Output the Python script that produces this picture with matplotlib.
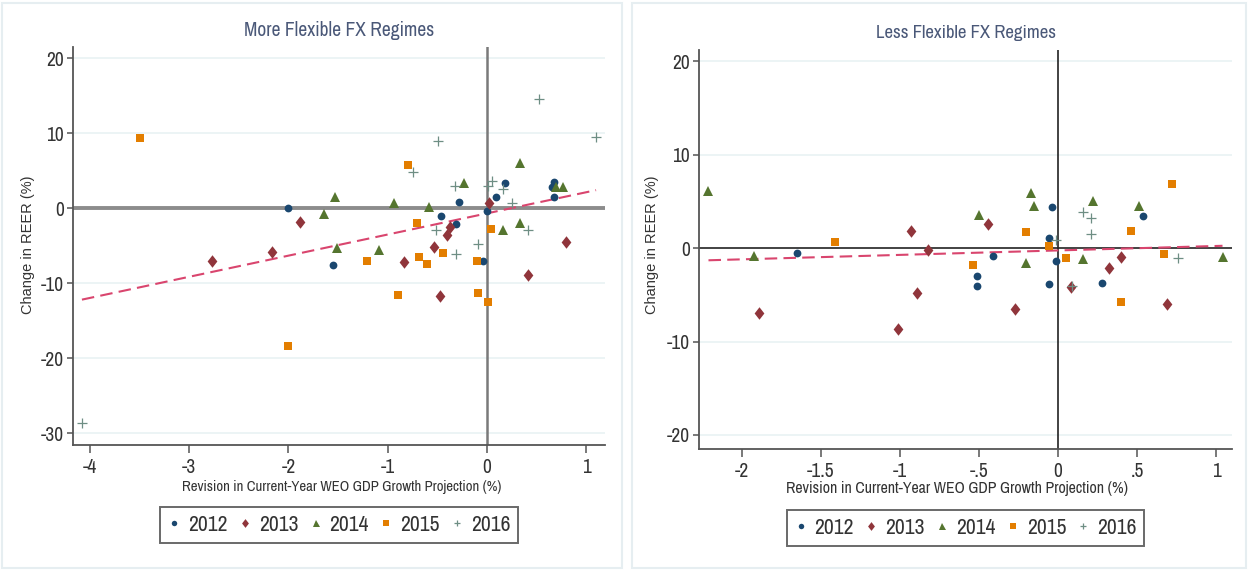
import matplotlib
matplotlib.use("Agg")
import matplotlib.pyplot as plt
from matplotlib import font_manager
from matplotlib.patches import Rectangle
import numpy as np

# ---------------- data ----------------
years = ["2012", "2013", "2014", "2015", "2016"]

# More flexible FX regimes
mf_2012_x = [-2.00, -1.55, -0.46, -0.28, -0.31, -0.04, 0.00, 0.09, 0.18, 0.68, 0.66, 0.68]
mf_2012_y = [0.0, -7.6, -1.1, 0.8, -2.1, -7.1, -0.4, 1.5, 3.3, 3.5, 2.8, 1.5]
mf_2013_x = [-2.77, -2.17, -1.88, -0.84, -0.53, -0.47, -0.40, -0.37, 0.02, 0.41, 0.80]
mf_2013_y = [-7.0, -5.8, -1.9, -7.2, -5.2, -11.7, -3.6, -2.5, 0.7, -8.9, -4.5]
mf_2014_x = [-1.64, -1.53, -1.51, -1.09, -0.94, -0.58, -0.23, 0.16, 0.33, 0.33, 0.70, 0.77]
mf_2014_y = [-0.8, 1.5, -5.3, -5.6, 0.7, 0.1, 3.3, -2.9, 6.0, -2.0, 2.8, 2.8]
mf_2015_x = [-3.50, -2.00, -0.79, -0.70, -1.21, -0.90, -0.68, -0.60, -0.44, 0.04, -0.10, -0.09, 0.01]
mf_2015_y = [9.3, -18.4, 5.7, -2.0, -7.1, -11.6, -6.5, -7.5, -6.0, -2.8, -7.1, -11.3, -12.5]
mf_2016_x = [-4.08, -0.49, -0.74, -0.32, -0.51, -0.31, 0.05, 0.01, 0.16, 0.25, 0.41, -0.09, 0.53, 1.10]
mf_2016_y = [-28.7, 8.9, 4.8, 2.9, -2.9, -6.1, 3.6, 2.9, 2.5, 0.7, -2.9, -4.8, 14.6, 9.5]
mf_fit_intercept = -0.7
mf_fit_slope = 2.82

# Less flexible FX regimes
lf_2012_x = [-1.65, -0.41, -0.51, -0.51, -0.04, -0.06, -0.01, -0.06, 0.28, 0.54]
lf_2012_y = [-0.5, -0.8, -3.0, -4.1, 4.4, 1.1, -1.4, -3.8, -3.7, 3.4]
lf_2013_x = [-1.89, -0.93, -0.82, -0.89, -1.01, -0.44, -0.27, 0.08, 0.32, 0.40, 0.69]
lf_2013_y = [-6.9, 1.8, -0.2, -4.8, -8.7, 2.6, -6.5, -4.2, -2.1, -1.0, -6.0]
lf_2014_x = [-2.21, -1.92, -0.50, -0.17, -0.15, -0.20, 0.16, 0.22, 0.51, 1.04]
lf_2014_y = [6.1, -0.8, 3.5, 5.9, 4.5, -1.6, -1.2, 5.0, 4.5, -0.9]
lf_2015_x = [-1.41, -0.54, -0.20, -0.06, 0.05, 0.46, 0.72, 0.67, 0.40]
lf_2015_y = [0.7, -1.8, 1.7, 0.2, -1.1, 1.8, 6.9, -0.6, -5.8]
lf_2016_x = [0.16, 0.21, 0.21, -0.01, 0.76, 0.09]
lf_2016_y = [3.9, 3.2, 1.5, 0.9, -1.1, -4.1]
lf_fit_intercept = -0.25
lf_fit_slope = 0.477

mf_xticks = [-4, -3, -2, -1, 0, 1]
mf_xticklabels = ["-4", "-3", "-2", "-1", "0", "1"]
mf_yticks = [20, 10, 0, -10, -20, -30]
lf_xticks = [-2, -1.5, -1, -0.5, 0, 0.5, 1]
lf_xticklabels = ["-2", "-1.5", "-1", "-.5", "0", ".5", "1"]
lf_yticks = [20, 10, 0, -10, -20]

# ---------------- fonts ----------------
avail = {}
for f in font_manager.fontManager.ttflist:
    if f.style == "normal":
        avail.setdefault(f.name, []).append(f.weight)
NARROW_FAM = "Liberation Sans"
for cand in ["Liberation Sans Narrow", "Arial Narrow", "Archivo Narrow", "Roboto Condensed",
             "PT Sans Narrow", "Open Sans Condensed", "IBM Plex Sans Condensed",
             "Encode Sans Condensed", "Pragati Narrow"]:
    if cand in avail and 400 in avail[cand]:
        NARROW_FAM = cand
        break
NARROW = [NARROW_FAM, "DejaVu Sans"]
REG = ["Liberation Sans", "DejaVu Sans"]

# ---------------- styling ----------------
colors = ["#1a476f", "#90353b", "#55752f", "#e37e00", "#6e8e84"]
diamond = [(-0.78, 0), (0, 1), (0.78, 0), (0, -1)]
markers = ["o", diamond, "^", "s", "+"]
msizes = [5.6, 9.0, 7.2, 6.0, 6.5]
axis_col = "#555555"
text_col = "#333333"
title_col = "#4a5878"
fit_col = "#d9456e"

W, H = 1248, 571
fig = plt.figure(figsize=(W / 100, H / 100), dpi=100)
fig.patch.set_facecolor("white")

for (x0, y0, x1, y1) in [(2, 3, 622, 568), (632, 3, 1246, 568)]:
    fig.patches.append(Rectangle((x0 / W, 1 - y1 / H), (x1 - x0) / W, (y1 - y0) / H,
                                 transform=fig.transFigure, fill=False,
                                 edgecolor="#e6eef1", lw=1.5, zorder=0))


def px_axes(x0, y0, x1, y1):
    return fig.add_axes([x0 / W, 1 - y1 / H, (x1 - x0) / W, (y1 - y0) / H])


def style_panel(ax, xlim, ylim, xticks, xtl, yticks, zero_style):
    ax.set_xlim(*xlim)
    ax.set_ylim(*ylim)
    for s in ["top", "right"]:
        ax.spines[s].set_visible(False)
    for s in ["left", "bottom"]:
        ax.spines[s].set_color(axis_col)
        ax.spines[s].set_linewidth(1.3)
    ax.set_xticks(xticks)
    ax.set_xticklabels(xtl)
    ax.set_yticks(yticks)
    ax.set_yticklabels([str(v) for v in yticks])
    ax.tick_params(axis="x", length=5.5, width=1.1, color=axis_col, pad=4, labelsize=14, labelcolor=text_col)
    ax.tick_params(axis="y", length=4.5, width=1.1, color=axis_col, pad=2, labelsize=14, labelcolor=text_col)
    for lab in ax.get_xticklabels() + ax.get_yticklabels():
        lab.set_family(NARROW)
    for v in yticks:
        if v != 0:
            ax.axhline(v, color="#e9f2f3", lw=1.2, zorder=0)
    ax.axhline(0, **zero_style[0])
    ax.axvline(0, **zero_style[1])
    ax.set_facecolor("white")


def draw_points(ax, xs, ys):
    handles = []
    for i, (x, y) in enumerate(zip(xs, ys)):
        kw = dict(linestyle="none", marker=markers[i], markersize=msizes[i], color=colors[i],
                  zorder=3)
        kw["markeredgewidth"] = 0.9 if markers[i] == "+" else 0
        h, = ax.plot(x, y, label=years[i], **kw)
        handles.append(h)
    return handles


def draw_fit(ax, xs_all, a, b):
    xr = np.array([min(min(v) for v in xs_all), max(max(v) for v in xs_all)])
    ax.plot(xr, a + b * xr, color=fit_col, lw=1.5, dashes=(6, 3), zorder=2.5)


def add_labels(xlab_xy, ylab_xy, xfs):
    fig.text(xlab_xy[0] / W, 1 - xlab_xy[1] / H,
             "Revision in Current-Year WEO GDP Growth Projection (%)",
             ha="center", va="center", fontsize=xfs, family=NARROW, color=text_col)
    fig.text(ylab_xy[0] / W, 1 - ylab_xy[1] / H, "Change in REER (%)", rotation=90,
             ha="center", va="center", fontsize=10.5, family=REG, color=text_col)


def add_legend(handles, box):
    x0, y0, x1, y1 = box
    leg = fig.legend(handles=handles, labels=years, ncol=5, loc="center",
                     bbox_to_anchor=((x0 + x1) / 2 / W, 1 - (y0 + y1) / 2 / H),
                     frameon=True, fancybox=False, markerscale=0.7, handlelength=0.6,
                     handletextpad=0.35, columnspacing=0.5, borderpad=0.35,
                     prop=dict(family=NARROW, size=15.5))
    fr = leg.get_frame()
    fr.set_edgecolor("#444444")
    fr.set_linewidth(1.4)
    for t in leg.get_texts():
        t.set_color(text_col)
    return leg


# ---------------- left panel ----------------
axL = px_axes(73, 47, 605, 445)
style_panel(axL, (-4.17, 1.19), (-31.6, 21.5), mf_xticks, mf_xticklabels, mf_yticks,
            (dict(color="#8c8c8c", lw=2.8, zorder=1), dict(color="#7a7a7a", lw=1.8, zorder=1)))
mf_x = [mf_2012_x, mf_2013_x, mf_2014_x, mf_2015_x, mf_2016_x]
mf_y = [mf_2012_y, mf_2013_y, mf_2014_y, mf_2015_y, mf_2016_y]
hL = draw_points(axL, mf_x, mf_y)
draw_fit(axL, mf_x, mf_fit_intercept, mf_fit_slope)
fig.text(339 / W, 1 - 30 / H, "More Flexible FX Regimes", ha="center", va="center",
         fontsize=14, family=NARROW, color=title_col)
add_labels((342, 487), (28, 245), 10.6)
add_legend(hL, (160, 507, 518, 543))

# ---------------- right panel ----------------
axR = px_axes(699, 50, 1232, 449)
style_panel(axR, (-2.27, 1.10), (-21.5, 21.2), lf_xticks, lf_xticklabels, lf_yticks,
            (dict(color="#222222", lw=1.2, zorder=1), dict(color="#222222", lw=1.2, zorder=1)))
lf_x = [lf_2012_x, lf_2013_x, lf_2014_x, lf_2015_x, lf_2016_x]
lf_y = [lf_2012_y, lf_2013_y, lf_2014_y, lf_2015_y, lf_2016_y]
hR = draw_points(axR, lf_x, lf_y)
draw_fit(axR, lf_x, lf_fit_intercept, lf_fit_slope)
fig.text(966 / W, 1 - 33 / H, "Less Flexible FX Regimes", ha="center", va="center",
         fontsize=13.5, family=NARROW, color=title_col)
add_labels((957, 489), (652, 245), 11.4)
add_legend(hR, (787, 509, 1144, 547))

fig.savefig("out.png", dpi=100, facecolor="white")
